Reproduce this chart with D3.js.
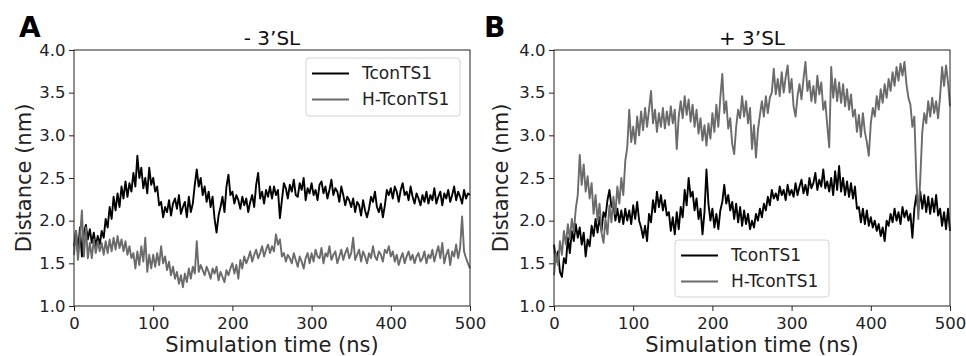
<!DOCTYPE html>
<html lang="en">
<head>
<meta charset="utf-8">
<title>Distance vs simulation time</title>
<script src="https://cdn.jsdelivr.net/npm/d3@7/dist/d3.min.js"></script>
<style>
    body { margin: 0; background: #fff; }
    svg { display: block; font-family: "DejaVu Sans", sans-serif; }
    .axis path, .axis line { stroke: #222; stroke-width: 1; }
    .axis text { fill: #222; font-size: 16.5px; font-family: "DejaVu Sans", sans-serif; }
    .lbl { fill: #222; font-size: 21px; }
    .ttl { fill: #111; font-size: 20px; }
    .panel-letter { font-size: 28px; font-weight: bold; fill: #000; }
    .leg text { font-size: 17px; fill: #222; }
</style>
</head>
<body>
<svg id="chart" width="966" height="356"></svg>
<script>

//_____________________________DATA_____________________________
// one sample every 2.5 ns, 0..500 ns
var timeStep = 2.5;
var seriesNames = ["TconTS1", "H-TconTS1"];
var panelTitles = ["- 3\u2019SL", "+ 3\u2019SL"];
var panelLetters = ["A", "B"];
var xTicks = [0, 100, 200, 300, 400, 500];
var yTicks = [1.0, 1.5, 2.0, 2.5, 3.0, 3.5, 4.0];

// panel A, TconTS1
var aBlack = [
 1.70,1.88,1.62,1.92,1.58,1.86,1.95,1.78,1.90,1.74,1.86,1.70,1.82,1.72,1.88,1.80,2.02,1.92,2.16,2.02,
 2.28,2.12,2.32,2.16,2.40,2.26,2.46,2.28,2.44,2.34,2.56,2.40,2.76,2.50,2.62,2.38,2.50,2.32,2.62,2.42,
 2.50,2.34,2.40,2.18,2.22,2.04,2.16,2.10,2.24,2.06,2.20,2.26,2.14,2.30,2.08,2.16,2.22,2.04,2.28,2.10,
 2.20,2.42,2.60,2.40,2.50,2.30,2.40,2.22,2.34,2.16,2.28,2.02,1.86,2.06,2.16,2.28,2.10,2.40,2.54,2.30,
 2.34,2.20,2.30,2.24,2.14,2.28,2.18,2.26,2.10,2.22,2.30,2.16,2.42,2.56,2.26,2.34,2.20,2.36,2.28,2.40,
 2.26,2.40,2.30,2.36,2.03,2.24,2.44,2.38,2.26,2.42,2.34,2.48,2.30,2.28,2.44,2.36,2.50,2.24,2.38,2.32,
 2.44,2.30,2.36,2.24,2.42,2.46,2.32,2.40,2.26,2.36,2.48,2.30,2.38,2.34,2.22,2.40,2.30,2.18,2.28,2.24,
 2.16,2.26,2.10,2.22,2.18,2.06,2.24,2.12,2.04,2.14,2.28,2.22,2.34,2.16,2.10,2.20,2.04,2.18,2.36,2.30,
 2.38,2.26,2.40,2.34,2.22,2.36,2.44,2.30,2.34,2.24,2.40,2.28,2.20,2.32,2.26,2.18,2.30,2.22,2.34,2.20,
 2.30,2.24,2.38,2.20,2.28,2.34,2.18,2.32,2.26,2.36,2.22,2.30,2.40,2.24,2.34,2.28,2.20,2.36,2.26,2.32,
 2.30];

// panel A, H-TconTS1
var aGrey = [
 1.60,1.88,1.54,1.80,2.12,1.58,1.92,1.56,1.74,1.56,1.78,1.62,1.76,1.64,1.74,1.60,1.76,1.62,1.78,1.64,
 1.80,1.66,1.82,1.68,1.78,1.64,1.76,1.60,1.70,1.56,1.62,1.44,1.64,1.48,1.70,1.52,1.80,1.40,1.60,1.44,
 1.60,1.46,1.62,1.48,1.70,1.50,1.58,1.42,1.52,1.36,1.46,1.32,1.40,1.26,1.36,1.22,1.38,1.28,1.44,1.32,
 1.46,1.38,1.76,1.40,1.48,1.42,1.36,1.46,1.40,1.32,1.44,1.38,1.46,1.30,1.40,1.34,1.28,1.42,1.36,1.44,
 1.50,1.38,1.48,1.32,1.54,1.44,1.58,1.50,1.56,1.64,1.52,1.60,1.66,1.56,1.62,1.70,1.58,1.66,1.72,1.62,
 1.70,1.64,1.84,1.72,1.78,1.58,1.62,1.52,1.60,1.56,1.50,1.62,1.54,1.46,1.58,1.52,1.44,1.56,1.62,1.50,
 1.62,1.52,1.66,1.58,1.56,1.68,1.50,1.62,1.58,1.70,1.54,1.60,1.64,1.50,1.58,1.66,1.54,1.62,1.68,1.56,
 1.62,1.80,1.54,1.60,1.66,1.52,1.64,1.58,1.50,1.62,1.56,1.70,1.58,1.54,1.64,1.60,1.52,1.66,1.62,1.70,
 1.58,1.64,1.52,1.60,1.48,1.56,1.62,1.50,1.58,1.64,1.54,1.60,1.50,1.58,1.62,1.52,1.56,1.64,1.50,1.60,
 1.56,1.66,1.52,1.62,1.70,1.56,1.74,1.50,1.60,1.66,1.48,1.64,1.58,1.72,1.56,1.68,2.05,1.64,1.56,1.50,
 1.44];

// panel B, TconTS1
var bBlack = [
 1.72,1.52,1.64,1.40,1.34,1.56,1.50,1.80,1.62,1.88,1.76,1.96,1.80,1.92,1.72,1.86,1.58,1.78,1.70,1.94,
 1.82,2.02,1.86,2.04,1.88,2.10,2.04,2.24,2.36,2.16,2.20,2.00,2.14,1.98,2.12,1.96,2.14,2.00,2.12,1.96,
 2.18,2.02,2.22,2.00,1.92,1.80,1.94,1.76,2.08,1.98,2.24,2.10,2.34,2.16,2.30,2.12,2.24,2.06,2.10,1.88,
 2.04,1.84,2.10,1.90,2.16,2.04,2.36,2.18,2.50,2.28,2.34,2.12,2.26,2.02,2.14,1.84,2.10,2.60,2.20,2.00,
 2.14,1.92,2.08,1.90,2.12,2.22,2.42,2.20,2.30,2.12,2.22,2.02,2.20,1.98,2.16,1.94,2.12,1.96,2.08,1.90,
 2.00,1.92,2.08,2.00,2.14,2.04,2.20,2.12,2.28,2.18,2.36,2.26,2.32,2.24,2.40,2.30,2.36,2.24,2.42,2.30,
 2.36,2.28,2.44,2.30,2.40,2.48,2.32,2.42,2.30,2.50,2.38,2.44,2.56,2.36,2.48,2.40,2.60,2.38,2.46,2.34,
 2.50,2.30,2.58,2.36,2.64,2.34,2.50,2.30,2.46,2.28,2.44,2.26,2.40,2.14,2.16,1.98,2.14,1.96,2.12,1.94,
 2.04,1.92,2.00,1.88,1.96,1.82,1.92,1.76,2.00,1.94,2.08,1.98,2.14,2.00,2.10,1.96,2.16,2.04,2.12,2.00,
 2.08,1.80,2.14,2.30,2.12,2.34,2.14,2.30,2.10,2.28,2.08,2.26,2.10,2.30,2.06,2.14,1.94,2.10,1.90,2.14,
 1.88];

// panel B, H-TconTS1
var bGrey = [
 1.36,1.62,1.48,1.76,1.60,1.88,1.72,1.96,1.78,2.02,1.86,2.14,2.30,2.77,2.42,2.66,2.34,2.52,2.26,2.44,
 2.08,2.30,2.00,2.20,1.86,1.74,2.02,1.84,2.18,1.98,2.28,2.08,2.40,2.20,2.50,2.30,2.70,2.86,3.30,2.92,
 3.10,2.90,3.22,3.00,3.28,3.06,3.32,3.10,3.30,3.52,3.14,3.30,3.04,3.26,3.10,3.32,3.08,3.28,3.12,3.34,
 3.14,3.30,2.84,3.22,3.40,3.20,3.46,3.24,3.42,3.16,3.36,3.10,3.30,3.02,3.20,2.94,3.12,2.88,3.14,2.96,
 3.26,3.04,3.36,3.10,3.44,3.72,3.26,3.40,3.08,3.20,2.90,2.78,3.10,3.30,3.20,3.46,3.22,3.40,3.14,3.32,
 2.84,3.12,2.74,3.06,3.24,3.40,3.22,3.46,3.26,3.44,3.50,3.78,3.48,3.66,3.46,3.74,3.50,3.68,3.82,3.50,
 3.66,3.34,3.22,3.46,3.60,3.42,3.66,3.86,3.52,3.64,3.40,3.58,3.38,3.70,3.48,3.62,3.30,3.40,3.12,2.86,
 3.80,3.44,3.66,3.40,3.62,3.38,3.60,3.34,3.54,3.30,3.48,3.22,3.30,3.04,3.24,2.98,3.26,3.04,2.92,2.76,
 3.14,3.32,3.22,3.46,3.30,3.54,3.38,3.60,3.44,3.66,3.52,3.74,3.58,3.80,3.64,3.84,3.70,3.86,3.60,3.44,
 3.36,3.10,3.22,2.50,2.02,2.50,3.04,3.26,3.14,3.40,3.22,3.44,3.26,3.40,3.20,3.46,3.80,3.58,3.82,3.62,
 3.34];

//_____________________________LAYOUT_____________________________
var plotTop = 50, plotBottom = 306;
var panels = [
    {letter: panelLetters[0], title: panelTitles[0], left: 74, right: 470, series: [aBlack, aGrey],
     leg: {x: 306, y: 58, w: 154, h: 58}, letterX: 19, ylabX: 31},
    {letter: panelLetters[1], title: panelTitles[1], left: 554, right: 950, series: [bBlack, bGrey],
     leg: {x: 675, y: 240, w: 154, h: 57}, letterX: 484, ylabX: 508}
];
var colors = ["#000000", "#6b6b6b"];

var svg = d3.select("#chart");

panels.forEach(function (p) {
    var x = d3.scaleLinear().domain([0, 500]).range([p.left, p.right]);
    var y = d3.scaleLinear().domain([1, 4]).range([plotBottom, plotTop]);

    var g = svg.append("g");

    // series
    var line = d3.line()
        .x(function (d, i) { return x(i * timeStep); })
        .y(function (d) { return y(d); });

    p.series.forEach(function (s, k) {
        g.append("path")
            .datum(s)
            .attr("fill", "none")
            .attr("stroke", colors[k])
            .attr("stroke-width", 1.9)
            .attr("stroke-linejoin", "round")
            .attr("d", line);
    });

    // frame
    g.append("rect")
        .attr("x", p.left).attr("y", plotTop)
        .attr("width", p.right - p.left).attr("height", plotBottom - plotTop)
        .attr("fill", "none").attr("stroke", "#222").attr("stroke-width", 1);

    // axes
    var xa = g.append("g").attr("class", "axis")
        .attr("transform", "translate(0," + plotBottom + ")")
        .call(d3.axisBottom(x).tickValues(xTicks).tickSize(5).tickPadding(6).tickFormat(d3.format("d")));
    var ya = g.append("g").attr("class", "axis")
        .attr("transform", "translate(" + p.left + ",0)")
        .call(d3.axisLeft(y).tickValues(yTicks).tickSize(5).tickPadding(3.5).tickFormat(d3.format(".1f")));
    xa.select(".domain").remove();
    ya.select(".domain").remove();

    // labels
    g.append("text").attr("class", "lbl")
        .attr("x", (p.left + p.right) / 2).attr("y", 352)
        .attr("text-anchor", "middle")
        .text("Simulation time (ns)");
    g.append("text").attr("class", "lbl")
        .attr("transform", "translate(" + p.ylabX + "," + ((plotTop + plotBottom) / 2) + ") rotate(-90)")
        .attr("text-anchor", "middle")
        .text("Distance (nm)");
    g.append("text").attr("class", "ttl")
        .attr("x", (p.left + p.right) / 2).attr("y", 45)
        .attr("text-anchor", "middle")
        .text(p.title);
    g.append("text").attr("class", "panel-letter")
        .attr("x", p.letterX).attr("y", 36.5)
        .text(p.letter);

    // legend
    var lg = g.append("g").attr("class", "leg")
        .attr("transform", "translate(" + p.leg.x + "," + p.leg.y + ")");
    lg.append("rect")
        .attr("width", p.leg.w).attr("height", p.leg.h)
        .attr("rx", 3).attr("ry", 3)
        .attr("fill", "#fff").attr("fill-opacity", 0.85)
        .attr("stroke", "#d4d4d4");
    seriesNames.forEach(function (name, k) {
        var yy = 15.5 + k * 26;
        lg.append("line")
            .attr("x1", 6).attr("x2", 43).attr("y1", yy).attr("y2", yy)
            .attr("stroke", colors[k]).attr("stroke-width", 1.9);
        lg.append("text")
            .attr("x", 56).attr("y", yy).attr("dy", "0.35em")
            .text(name);
    });
});

</script>
</body>
</html>
